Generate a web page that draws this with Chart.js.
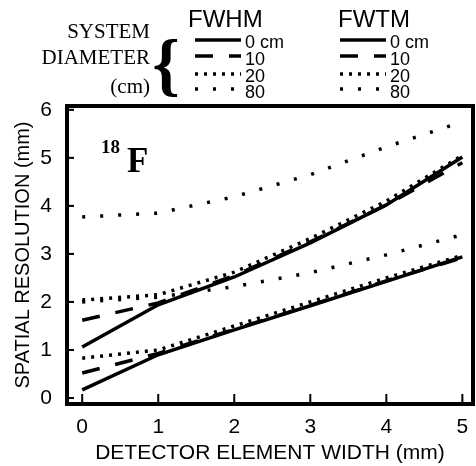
<!DOCTYPE html>
<html>
<head>
<meta charset="utf-8">
<script src="https://cdn.jsdelivr.net/npm/chart.js@4.4.0/dist/chart.umd.min.js"></script>
<style>
  html, body { margin: 0; padding: 0; background: #fff; }
  #wrap { width: 476px; height: 466px; }
</style>
</head>
<body>
<div id="wrap"><canvas id="resChart" width="476" height="466"></canvas></div>
<script>
// detector element width (mm)
const widths = [0, 1, 2, 3, 4, 5];
const xTicks = [0, 1, 2, 3, 4, 5];
const yTicks = [0, 1, 2, 3, 4, 5, 6];

// FWHM (mm) per system diameter
const fwhm0 = [0.17, 0.9, 1.42, 1.92, 2.43, 2.94];
const fwhm10 = [0.52, 0.93, 1.43, 1.93, 2.44, 2.92];
const fwhm20 = [0.83, 1.0, 1.5, 2.0, 2.5, 2.97];
const fwhm80 = [2.0, 2.1, 2.32, 2.61, 2.98, 3.4];

// FWTM (mm)
const fwtm0 = [1.06, 1.94, 2.52, 3.23, 4.02, 5.02];
const fwtm10 = [1.62, 1.98, 2.55, 3.25, 4.02, 4.9];
const fwtm20 = [2.04, 2.15, 2.62, 3.32, 4.1, 5.05];
const fwtm80 = [3.77, 3.85, 4.19, 4.65, 5.23, 5.75];

const diamLabels = ['0 cm', '10', '20', '80'];

const solid = [];
const dashed = [18, 16];
const dense = [3, 6];
const sparse = [3, 15];
const styles = [solid, dashed, dense, sparse];

function pts(arr) {
    return arr.map((v, i) => ({ x: widths[i], y: v }));
}

function mkSet(label, arr, k) {
    return {
        label: label,
        data: pts(arr),
        borderColor: '#000',
        borderWidth: 3.5,
        borderDash: styles[k],
        pointRadius: 0,
        tension: 0,
        fill: false
    };
}

const datasets = [
    mkSet('FWHM 80', fwhm80, 3),
    mkSet('FWTM 80', fwtm80, 3),
    mkSet('FWHM 20', fwhm20, 2),
    mkSet('FWTM 20', fwtm20, 2),
    mkSet('FWHM 10', fwhm10, 1),
    mkSet('FWTM 10', fwtm10, 1),
    mkSet('FWHM 0', fwhm0, 0),
    mkSet('FWTM 0', fwtm0, 0)
];

// frame, inward ticks, legend and isotope label
const decor = {
    id: 'decor',
    afterDraw(chart) {
        const c = chart.ctx;
        const a = chart.chartArea;
        const xs = chart.scales.x, ys = chart.scales.y;
        c.save();
        c.strokeStyle = '#000';
        c.lineWidth = 4;
        c.setLineDash([]);
        c.strokeRect(a.left, a.top, a.right - a.left, a.bottom - a.top);
        c.lineWidth = 2;
        xTicks.forEach(t => {
            const px = xs.getPixelForValue(t);
            c.beginPath(); c.moveTo(px, a.bottom); c.lineTo(px, a.bottom - 10); c.stroke();
        });
        yTicks.forEach(t => {
            const py = ys.getPixelForValue(t);
            c.beginPath(); c.moveTo(a.left, py); c.lineTo(a.left + 7, py); c.stroke();
        });

        // isotope
        c.fillStyle = '#000';
        c.textBaseline = 'alphabetic';
        c.font = 'bold 19px "Liberation Serif", serif';
        c.fillText('18', 101, 153);
        c.font = 'bold 35px "Liberation Serif", serif';
        c.fillText('F', 127, 172);

        // legend heading
        c.font = '21px "Liberation Serif", serif';
        c.textAlign = 'right';
        c.fillText('SYSTEM', 150, 38);
        c.fillText('DIAMETER', 150, 64);
        c.fillText('(cm)', 150, 93);
        c.textAlign = 'center';
        c.textBaseline = 'middle';
        c.font = 'bold 70px "Liberation Serif", serif';
        c.fillText('{', 166, 70);

        c.textAlign = 'left';
        c.textBaseline = 'alphabetic';
        c.font = '24px "Liberation Sans", sans-serif';
        c.fillText('FWHM', 188, 27);
        c.fillText('FWTM', 338, 27);

        const rowY = [40, 56, 74, 89];
        const txtY = [48, 65, 82, 98];
        [[195, 241], [340, 386]].forEach(col => {
            styles.forEach((d, k) => {
                c.lineWidth = 3.5;
                c.setLineDash(d);
                c.beginPath(); c.moveTo(col[0], rowY[k]); c.lineTo(col[1], rowY[k]); c.stroke();
                c.setLineDash([]);
                c.font = '18px "Liberation Sans", sans-serif';
                c.fillText(diamLabels[k], col[1] + 4, txtY[k]);
            });
        });
        c.restore();
    }
};

const chart = new Chart(document.getElementById('resChart').getContext('2d'), {
    type: 'line',
    data: { datasets: datasets },
    options: {
        responsive: false,
        animation: false,
        devicePixelRatio: 1,
        layout: { padding: { top: 106, right: 3, left: 0, bottom: 0 } },
        plugins: { legend: { display: false }, tooltip: { enabled: false } },
        scales: {
            x: {
                type: 'linear',
                min: -0.2,
                max: 5.14,
                afterBuildTicks: s => { s.ticks = xTicks.map(v => ({ value: v })); },
                afterFit: s => { s.height = 62; },
                grid: { display: false },
                border: { display: false },
                ticks: {
                    color: '#000',
                    padding: 3,
                    font: { family: '"Liberation Sans", sans-serif', size: 21 }
                },
                title: {
                    display: true,
                    text: 'DETECTOR ELEMENT WIDTH (mm)',
                    color: '#000',
                    padding: { top: 0, bottom: 0 },
                    font: { family: '"Liberation Sans", sans-serif', size: 21 }
                }
            },
            y: {
                type: 'linear',
                min: -0.125,
                max: 6.08,
                afterBuildTicks: s => { s.ticks = yTicks.map(v => ({ value: v })); },
                afterFit: s => { s.width = 67; },
                grid: { display: false },
                border: { display: false },
                ticks: {
                    color: '#000',
                    padding: 7,
                    font: { family: '"Liberation Sans", sans-serif', size: 21 }
                },
                title: {
                    display: true,
                    text: 'SPATIAL RESOLUTION (mm)',
                    color: '#000',
                    padding: { top: 11, bottom: 0 },
                    font: { family: '"Liberation Sans", sans-serif', size: 20 }
                }
            }
        }
    },
    plugins: [decor]
});
</script>
</body>
</html>
